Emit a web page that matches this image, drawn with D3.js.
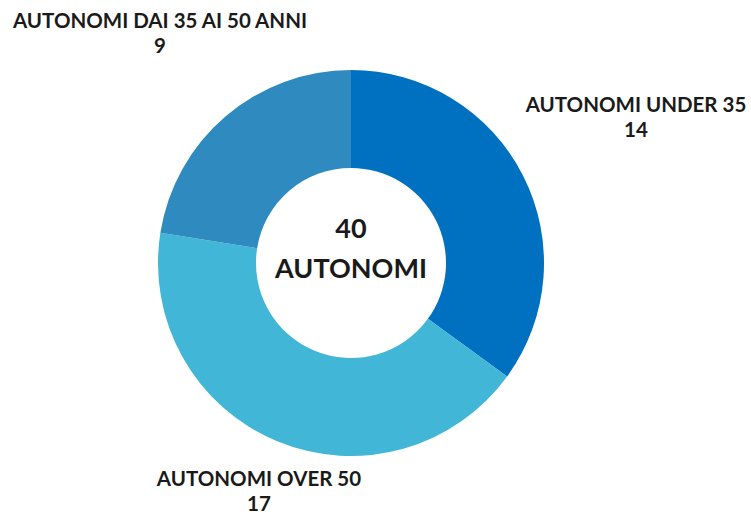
<!DOCTYPE html>
<html>
<head>
<meta charset="utf-8">
<script src="https://cdn.jsdelivr.net/npm/d3@7"></script>
<style>
  body { margin: 0; background: #fff; }
  text { font-family: "Lato", "Open Sans", sans-serif; font-weight: bold; fill: #1a1a1a; }
</style>
</head>
<body>
<svg id="chart" width="751" height="515"></svg>
<script>
// chart data
const categories = ["AUTONOMI UNDER 35", "AUTONOMI OVER 50", "AUTONOMI DAI 35 AI 50 ANNI"];
const values = [14, 17, 9];
const colors = ["#0070c0", "#42b6d6", "#2e8abf"];
const centerLines = ["40", "AUTONOMI"];

// layout
const width = 751, height = 515;
const cx = 351, cy = 263;
const outerR = 193, innerR = 95;

// where each outside label sits (baseline of the first line)
const labelPos = [
    { x: 636, y: 112 },
    { x: 259, y: 486 },
    { x: 160, y: 28 }
];

const svg = d3.select("#chart");
const g = svg.append("g").attr("transform", `translate(${cx},${cy})`);

const pie = d3.pie().sort(null).value(d => d);
const arc = d3.arc().innerRadius(innerR).outerRadius(outerR);

g.selectAll("path")
    .data(pie(values))
    .enter()
    .append("path")
    .attr("d", arc)
    .style("fill", (d, i) => colors[i]);

// centre text
g.append("text")
    .attr("text-anchor", "middle")
    .attr("y", -25)
    .style("font-size", "27px")
    .text(centerLines[0]);
g.append("text")
    .attr("text-anchor", "middle")
    .attr("y", 15)
    .style("font-size", "27px")
    .text(centerLines[1]);

// outside labels: name on first line, value on second
const labels = svg.selectAll("g.label")
    .data(categories)
    .enter()
    .append("g")
    .attr("class", "label")
    .attr("transform", (d, i) => `translate(${labelPos[i].x},${labelPos[i].y})`);

labels.append("text")
    .attr("text-anchor", "middle")
    .style("font-size", "20.5px")
    .text(d => d);

labels.append("text")
    .attr("text-anchor", "middle")
    .attr("y", 25)
    .style("font-size", "20.5px")
    .text((d, i) => values[i]);
</script>
</body>
</html>
